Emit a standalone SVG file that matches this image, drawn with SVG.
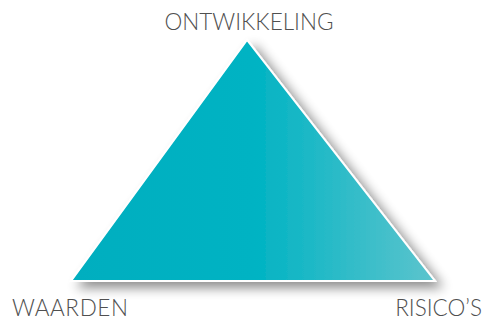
<svg xmlns="http://www.w3.org/2000/svg" width="490" height="320" viewBox="0 0 490 320">
<style>
.lbl{font-family:"Lato","Open Sans","Liberation Sans",sans-serif;font-weight:300;font-size:22.5px;fill:#505050}
</style>
<defs>
<linearGradient id="g" x1="72" y1="0" x2="434" y2="0" gradientUnits="userSpaceOnUse">
<stop offset="0" stop-color="#00AEBF"/>
<stop offset="0.5" stop-color="#00B3C3"/>
<stop offset="1" stop-color="#5CC4CD"/>
</linearGradient>
<filter id="sh" x="-20%" y="-20%" width="140%" height="140%">
<feGaussianBlur in="SourceAlpha" stdDeviation="6"/>
<feOffset dx="7" dy="6" result="b"/>
<feComponentTransfer><feFuncA type="linear" slope="0.45"/></feComponentTransfer>
<feMerge><feMergeNode/><feMergeNode in="SourceGraphic"/></feMerge>
</filter>
</defs>
<g id="triangle">
<polygon points="247,40 71,281 435,281" fill="url(#g)" stroke="#FFFFFF" stroke-width="2" filter="url(#sh)"/>
</g>
<g id="ontwikkeling"><text class="lbl" x="249" y="30" text-anchor="middle">ONTWIKKELING</text></g>
<g id="waarden"><text class="lbl" x="12" y="316" textLength="116">WAARDEN</text></g>
<g id="risicos"><text class="lbl" x="482" y="316" text-anchor="end">RISICO’S</text></g>
</svg>
